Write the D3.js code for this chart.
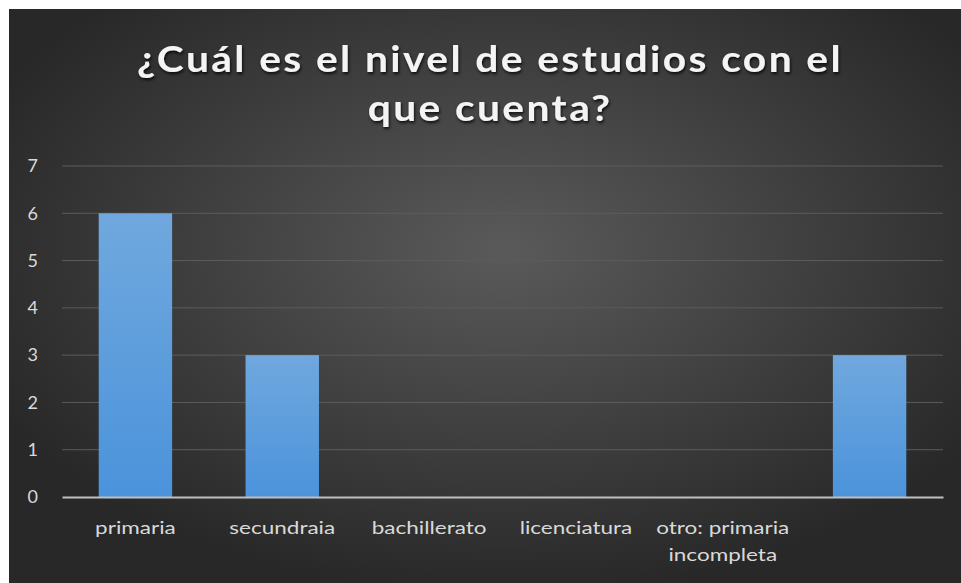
<!DOCTYPE html>
<html>
<head>
<meta charset="utf-8">
<script src="https://cdn.jsdelivr.net/npm/d3@7"></script>
<style>
    body { margin: 0; background: #ffffff; }
    svg { display: block; }
</style>
</head>
<body>
<div id="chart"></div>
<script>
// Data
const categories = ["primaria", "secundraia", "bachillerato", "licenciatura", "otro: primaria incompleta", ""];
const values = [6, 3, 0, 0, 0, 3];
const yTicks = [0, 1, 2, 3, 4, 5, 6, 7];
const titleLines = ["¿Cuál es el nivel de estudios con el", "que cuenta?"];

const data = categories.map((c, i) => ({ cat: c, value: values[i] }));

// Dimensions
let dimensions = {
    width: 961,
    height: 583,
    margin: {top: 166, right: 18, bottom: 86, left: 62},
}
dimensions.boundedWidth = dimensions.width - dimensions.margin.left - dimensions.margin.right
dimensions.boundedHeight = dimensions.height - dimensions.margin.top - dimensions.margin.bottom

// Scales
const xScale = d3.scaleBand()
    .domain(categories)
    .range([0, dimensions.boundedWidth])
    .paddingInner(0.5)
    .paddingOuter(0.25);

const yScale = d3.scaleLinear()
    .domain([0, 7])
    .range([dimensions.boundedHeight, 0]);

function drawChart() {

    const svg = d3.select("#chart")
        .append("svg")
            .attr("width", dimensions.width)
            .attr("height", dimensions.height)

    const defs = svg.append("defs")

    const bg = defs.append("radialGradient")
        .attr("id", "bgGrad")
        .attr("cx", "52%").attr("cy", "42%").attr("r", "60%")
    bg.append("stop").attr("offset", "0%").attr("stop-color", "#5a5a5a")
    bg.append("stop").attr("offset", "100%").attr("stop-color", "#282828")

    const barGrad = defs.append("linearGradient")
        .attr("id", "barGrad")
        .attr("x1", 0).attr("y1", 0).attr("x2", 0).attr("y2", 1)
    barGrad.append("stop").attr("offset", "0%").attr("stop-color", "#70a8de")
    barGrad.append("stop").attr("offset", "100%").attr("stop-color", "#4b93db")

    const shadow = defs.append("filter")
        .attr("id", "textShadow")
        .attr("x", "-5%").attr("y", "-20%").attr("width", "110%").attr("height", "140%")
    shadow.append("feDropShadow")
        .attr("dx", 1).attr("dy", 2).attr("stdDeviation", 1.5)
        .attr("flood-color", "#000").attr("flood-opacity", 0.8)

    // Background
    svg.append("rect")
        .attr("x", 9).attr("y", 9)
        .attr("width", dimensions.width - 9)
        .attr("height", dimensions.height - 9)
        .attr("fill", "url(#bgGrad)")

    // Title (glyphs a bit wider than Lato, so stretch it sideways)
    svg.append("g")
        .attr("filter", "url(#textShadow)")
        .selectAll("text")
        .data(titleLines)
        .join("text")
            .attr("transform", (d, i) => `translate(490, ${72 + i * 49}) scale(1.1, 1)`)
            .attr("text-anchor", "middle")
            .style("font-family", "Lato, 'Open Sans', sans-serif")
            .style("font-size", "37px")
            .style("font-weight", 700)
            .style("letter-spacing", "2.2px")
            .attr("fill", "#f4f4f4")
            .text(d => d)

    const bounds = svg.append("g")
        .style("transform", `translate(${dimensions.margin.left}px, ${dimensions.margin.top}px)`)
        .style("font-family", "Lato, 'Open Sans', sans-serif")

    // Gridlines
    bounds.append("g")
        .selectAll("line")
        .data(yTicks.filter(d => d > 0))
        .join("line")
            .attr("x1", 0)
            .attr("x2", dimensions.boundedWidth)
            .attr("y1", d => yScale(d))
            .attr("y2", d => yScale(d))
            .attr("stroke", "#5c5c5c")
            .attr("stroke-width", 1)

    // Y axis labels
    const yAxis = bounds.append("g")
        .call(d3.axisLeft(yScale).tickValues(yTicks).tickFormat(d3.format("d")).tickSize(0).tickPadding(24))
        .call(g => g.select(".domain").remove())
    yAxis.selectAll("text")
        .style("font-family", "Lato, 'Open Sans', sans-serif")
        .style("font-size", "18px")
        .attr("fill", "#d9d9d9")

    // Bars
    bounds.append("g")
        .selectAll("rect")
        .data(data)
        .join("rect")
            .attr("x", d => xScale(d.cat))
            .attr("y", d => yScale(d.value))
            .attr("width", xScale.bandwidth())
            .attr("height", d => yScale(0) - yScale(d.value))
            .attr("fill", "url(#barGrad)")

    // X axis
    const xAxis = bounds.append("g")
        .style("transform", `translateY(${dimensions.boundedHeight}px)`)
        .call(d3.axisBottom(xScale).tickSize(0).tickPadding(24))
    xAxis.select(".domain")
        .attr("stroke", "#bfbfbf")
        .attr("stroke-width", 2)
    xAxis.selectAll("text")
        .style("font-family", "Lato, 'Open Sans', sans-serif")
        .style("font-size", "18px")
        .attr("fill", "#d9d9d9")
        .attr("transform", "scale(1.25, 1)")
        .call(wrap, (xScale.step() - 8) / 1.25)
}

// Wrap long category labels onto several lines
function wrap(texts, width) {
    texts.each(function() {
        const text = d3.select(this)
        const words = text.text().split(/\s+/).reverse()
        const y = text.attr("y")
        const dy = parseFloat(text.attr("dy"))
        let line = []
        let lineNumber = 0
        let word
        let tspan = text.text(null).append("tspan").attr("x", 0).attr("y", y).attr("dy", dy + "em")
        while ((word = words.pop()) !== undefined) {
            line.push(word)
            tspan.text(line.join(" "))
            if (tspan.node().getComputedTextLength() > width && line.length > 1) {
                line.pop()
                tspan.text(line.join(" "))
                line = [word]
                tspan = text.append("tspan").attr("x", 0).attr("y", y)
                    .attr("dy", ++lineNumber * 1.5 + dy + "em").text(word)
            }
        }
    })
}

drawChart()
</script>
</body>
</html>
